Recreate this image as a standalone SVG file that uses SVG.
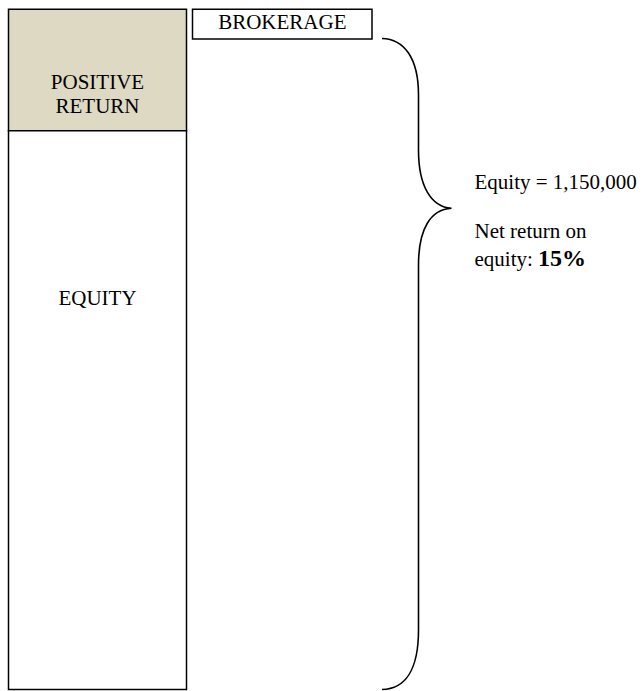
<svg xmlns="http://www.w3.org/2000/svg" width="642" height="691" viewBox="0 0 642 691">
<style>
.box{stroke:#000;stroke-width:1.5;}
.t{font-family:"Liberation Serif","Times New Roman",serif;font-size:21px;fill:#000;}
.c{text-anchor:middle;}
.brace{fill:none;stroke:#000;stroke-width:1.6;}
</style>
<rect x="0" y="0" width="642" height="691" fill="#fff"/>
<g id="positive-return">
<rect class="box" x="8.5" y="9.25" width="178" height="121.5" fill="#DDD9C3"/>
<text class="t c" x="97.5" y="89.3">POSITIVE</text>
<text class="t c" x="97.5" y="113.3">RETURN</text>
</g>
<g id="equity">
<rect class="box" x="8.5" y="130.75" width="178" height="558.75" fill="#fff"/>
<text class="t c" x="97.5" y="305">EQUITY</text>
</g>
<g id="brokerage">
<rect class="box" x="192.5" y="9.25" width="179.5" height="29.75" fill="#fff"/>
<text class="t c" x="282.3" y="29">BROKERAGE</text>
</g>
<g id="connectors">
<path class="brace" d="M382,38.5 C404,39 418.5,58 418.5,95 L418.5,150 C418.5,186 431,207 451.5,208.3 C431,209.5 418.5,228 418.5,265 L418.5,630 C418.5,670 405,689 382,689.5"/>
</g>
<g id="summary">
<text class="t" x="474.5" y="189.3">Equity = 1,150,000</text>
<text class="t" x="474.5" y="237.7">Net return on</text>
<text class="t" x="474.5" y="266">equity: <tspan font-weight="bold" font-size="24px">15%</tspan></text>
</g>
</svg>
